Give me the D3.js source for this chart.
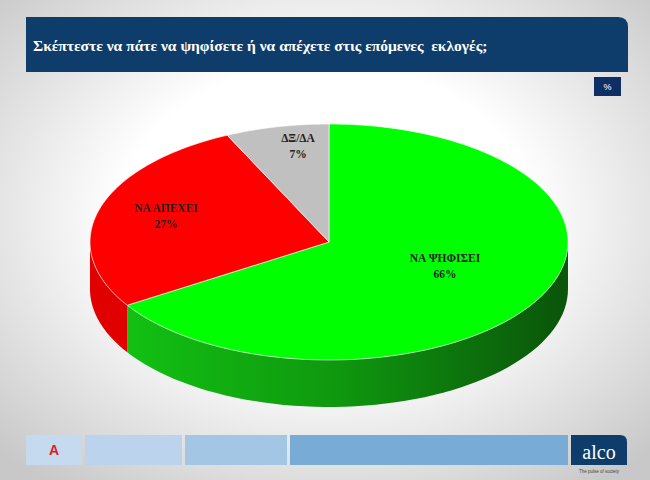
<!DOCTYPE html>
<html><head><meta charset="utf-8">
<script src="https://cdn.jsdelivr.net/npm/d3@7"></script>
<style>body{margin:0;}svg{display:block;}</style>
</head><body>
<script>
// Données
const categories = ["ΝΑ ΨΗΦΙΣΕΙ", "ΝΑ ΑΠΕΧΕΙ", "ΔΞ/ΔΑ"];
const values = [66, 27, 7];
const colors = ["#00ff00", "#ff0000", "#c0c0c0"];
const sideLight = ["#12c012", "#e00000", "#9a9a9a"];
const sideDark = ["#0a560a", "#c00000", "#7a7a7a"];
const labelPos = [[445, 262], [166, 212], [298, 142]];

const W = 650, H = 480;
const svg = d3.select("body").append("svg").attr("width", W).attr("height", H);

// Fond dégradé
const defs = svg.append("defs");
const bg = defs.append("radialGradient").attr("id", "bg").attr("cx", "50%").attr("cy", "45%").attr("r", "70%");
bg.append("stop").attr("offset", "0.45").attr("stop-color", "#ffffff");
bg.append("stop").attr("offset", "1").attr("stop-color", "#c8c8c8");
svg.append("rect").attr("width", W).attr("height", H).attr("fill", "url(#bg)");

colors.forEach((c, i) => {
  const g = defs.append("linearGradient").attr("id", "side" + i)
    .attr("gradientUnits", "userSpaceOnUse").attr("x1", 130).attr("x2", 560).attr("y1", 0).attr("y2", 0);
  g.append("stop").attr("offset", "0").attr("stop-color", sideLight[i]);
  g.append("stop").attr("offset", "0.5").attr("stop-color", d3.interpolateRgb(sideLight[i], sideDark[i])(0.4));
  g.append("stop").attr("offset", "1").attr("stop-color", sideDark[i]);
});

// Bandeau titre
svg.append("path")
  .attr("d", "M26,17 H618 Q628,17 628,27 V72 H26 Z")
  .attr("fill", "#0e3d6b");
svg.append("text").attr("x", 33).attr("y", 51)
  .attr("fill", "#fff").attr("font-family", "Liberation Serif, serif")
  .attr("font-weight", "bold").attr("font-size", 15.5)
  .attr("xml:space", "preserve")
  .text("Σκέπτεστε να πάτε να ψηφίσετε ή να απέχετε στις επόμενες  εκλογές;");
svg.append("rect").attr("x", 594).attr("y", 77).attr("width", 27).attr("height", 19).attr("fill", "#0e2f66");
svg.append("text").attr("x", 607.5).attr("y", 90).attr("text-anchor", "middle")
  .attr("fill", "#fff").attr("font-family", "Liberation Sans, sans-serif").attr("font-size", 9).text("%");

// Camembert 3D
const cx = 329, cy = 242, rx = 239, ry = 118, depth = 47;
const pie = d3.pie().sort(null).value(d => d);
const arcs = pie(values);
const pt = (a, dy = 0) => [cx + rx * Math.sin(a), cy - ry * Math.cos(a) + dy];

// Côtés (partie avant seulement)
arcs.forEach((d, i) => {
  const a0 = Math.max(d.startAngle, Math.PI / 2), a1 = Math.min(d.endAngle, 3 * Math.PI / 2);
  if (a1 <= a0) return;
  const top = d3.range(0, 61).map(k => pt(a0 + (a1 - a0) * k / 60));
  const bot = top.map(p => [p[0], p[1] + depth]).reverse();
  svg.append("path").attr("d", d3.line()(top.concat(bot)) + "Z").attr("fill", "url(#side" + i + ")");
});

// Dessus
arcs.forEach((d, i) => {
  const n = Math.max(2, Math.ceil((d.endAngle - d.startAngle) * 40));
  const ps = [[cx, cy]].concat(d3.range(0, n + 1).map(k => pt(d.startAngle + (d.endAngle - d.startAngle) * k / n)));
  svg.append("path").attr("d", d3.line()(ps) + "Z").attr("fill", colors[i])
    .attr("stroke", "#ffffff").attr("stroke-width", 0.6);
});

// Étiquettes
arcs.forEach((d, i) => {
  const t = svg.append("text").attr("text-anchor", "middle")
    .attr("font-family", "Liberation Serif, serif").attr("font-weight", "bold")
    .attr("font-size", 11.5).attr("fill", "#222");
  t.append("tspan").attr("x", labelPos[i][0]).attr("y", labelPos[i][1]).text(categories[i]);
  t.append("tspan").attr("x", labelPos[i][0]).attr("y", labelPos[i][1] + 16).text(values[i] + "%");
});

// Pied de page
const foot = [[26, 82, "#c5daef"], [85, 182, "#bcd3ee"], [185, 287, "#a3c6e4"], [290, 568, "#78acd6"]];
foot.forEach(f => svg.append("rect").attr("x", f[0]).attr("y", 435).attr("width", f[1] - f[0]).attr("height", 30).attr("fill", f[2]));
svg.append("text").attr("x", 54).attr("y", 455).attr("text-anchor", "middle")
  .attr("font-family", "Liberation Sans, sans-serif").attr("font-weight", "bold")
  .attr("font-size", 14).attr("fill", "#e02020").text("A");
svg.append("path").attr("d", "M571,435 H620 Q627,435 627,442 V465 H571 Z").attr("fill", "#0e3d6b");
svg.append("text").attr("x", 599).attr("y", 459).attr("text-anchor", "middle")
  .attr("font-family", "Liberation Serif, serif").attr("font-size", 20).attr("fill", "#fff").text("alco");
svg.append("text").attr("x", 599).attr("y", 473).attr("text-anchor", "middle")
  .attr("font-family", "Liberation Sans, sans-serif").attr("font-size", 4.5).attr("fill", "#444").text("The pulse of society");
</script>
</body></html>
